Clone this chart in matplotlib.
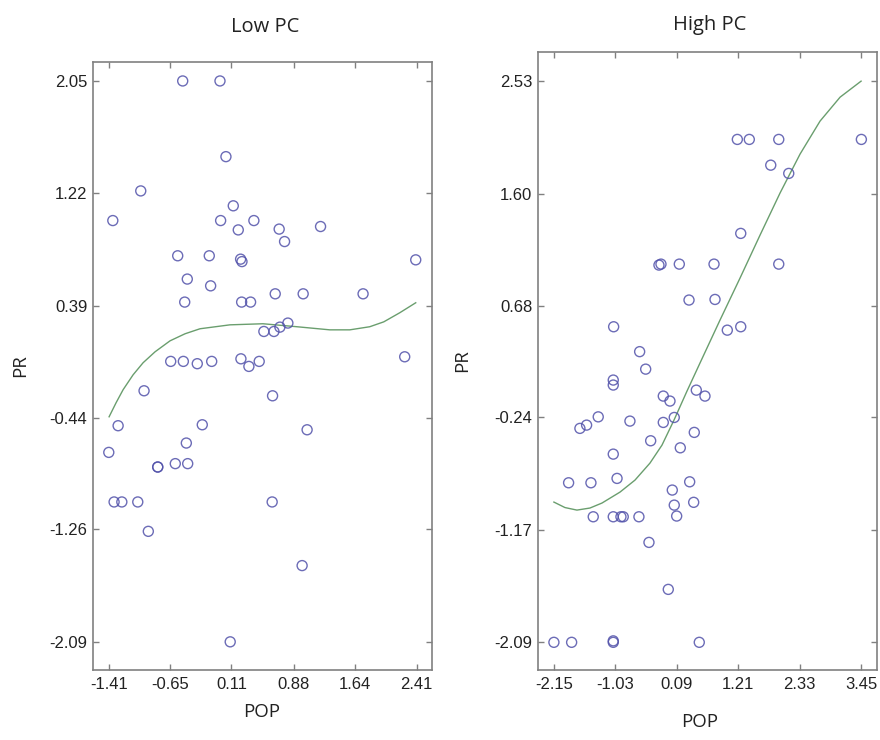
import matplotlib
matplotlib.use("Agg")
import matplotlib.pyplot as plt
import numpy as np

# ---- Low PC panel: scatter of PR against POP ----
low_pop = [-0.496, -0.033, 0.041, -1.017, -1.364, 0.132, -0.025, 0.194, 0.388,
           -0.558, -0.166, 0.223, 0.240, -0.439, -0.149, -0.471, 0.236, 0.347,
           0.512, 0.702, 0.769, 1.216, 2.398, 0.653, 1.000, 1.744, 0.810, 0.711,
           0.637, 2.261, -0.645, -0.488, -0.315, -0.136, 0.227, 0.326, 0.454,
           -0.976, 0.620, -1.298, -0.253, -0.451, -1.414, -0.588, -0.434, -0.806,
           -0.806, -1.348, -1.252, -1.054, 0.615, -0.923, 0.094, 1.049, 0.987]
low_pr = [2.05, 2.05, 1.491, 1.238, 1.019, 1.128, 1.019, 0.950, 1.019,
          0.759, 0.759, 0.734, 0.716, 0.587, 0.537, 0.417, 0.417, 0.417,
          0.200, 0.956, 0.864, 0.975, 0.729, 0.478, 0.478, 0.478, 0.262, 0.232,
          0.200, 0.013, -0.021, -0.021, -0.038, -0.021, -0.002, -0.058, -0.021,
          -0.238, -0.275, -0.496, -0.489, -0.624, -0.693, -0.776, -0.776, -0.801,
          -0.801, -1.059, -1.059, -1.059, -1.059, -1.276, -2.092, -0.526, -1.529]

# fitted curve
low_fit_pop = [-1.410, -1.323, -1.236, -1.112, -0.988, -0.839, -0.653, -0.467, -0.281,
               0.091, 0.500, 0.922, 1.331, 1.579, 1.827, 2.001, 2.199, 2.398]
low_fit_pr = [-0.430, -0.326, -0.230, -0.120, -0.031, 0.050, 0.131, 0.183, 0.220,
              0.249, 0.257, 0.235, 0.212, 0.212, 0.235, 0.271, 0.338, 0.412]

low_xticks = ["-1.41", "-0.65", "0.11", "0.88", "1.64", "2.41"]
low_yticks = ["-2.09", "-1.26", "-0.44", "0.39", "1.22", "2.05"]

# ---- High PC panel ----
high_pop = [-0.235, -0.198, 0.136, 0.769, 0.313, 0.787, -1.061, -0.587, 1.194,
            1.412, 1.949, 3.455, 1.803, 2.131, 1.256, 1.949, 1.011, 1.256,
            -0.477, -1.068, -1.068, -0.156, -0.034, 0.446, 0.604, -1.342, -1.554,
            -1.676, -0.764, -0.156, 0.044, 0.409, -0.386, 0.154, -1.068, -1.882,
            -1.475, -0.999, 0.008, 0.325, 0.044, 0.398, 0.088, -1.433, -1.068,
            -0.928, -0.886, -0.600, -0.417, -0.065, -2.150, -1.827, -1.068, -1.068,
            0.500]
high_pr = [1.015, 1.023, 1.023, 1.023, 0.727, 0.732, 0.507, 0.302, 2.050,
           2.050, 2.050, 2.050, 1.838, 1.770, 1.276, 1.023, 0.479, 0.507,
           0.158, 0.068, 0.027, -0.064, -0.105, -0.015, -0.064, -0.235, -0.303,
           -0.330, -0.270, -0.281, -0.240, -0.363, -0.432, -0.490, -0.542, -0.778,
           -0.778, -0.742, -0.838, -0.770, -0.962, -0.939, -1.052, -1.058, -1.058,
           -1.058, -1.058, -1.058, -1.269, -1.656, -2.092, -2.092, -2.092, -2.080,
           -2.092]

high_fit_pop = [-2.150, -1.949, -1.730, -1.493, -1.274, -0.946, -0.672, -0.399, -0.180,
                0.039, 0.276, 0.513, 0.878, 1.243, 1.608, 1.972, 2.337, 2.702,
                3.067, 3.450]
high_fit_pr = [-0.937, -0.982, -1.003, -0.986, -0.945, -0.855, -0.756, -0.616, -0.468,
               -0.262, -0.023, 0.208, 0.562, 0.908, 1.262, 1.608, 1.929, 2.201,
               2.398, 2.530]

high_xticks = ["-2.15", "-1.03", "0.09", "1.21", "2.33", "3.45"]
high_yticks = ["-2.09", "-1.17", "-0.24", "0.68", "1.60", "2.53"]

marker_col = "#5252aa"
line_col = "#6a9e6e"
spine_col = "#808080"
label_font = "Open Sans"
tick_font = "Liberation Sans"


def draw_panel(ax, pop, pr, fit_pop, fit_pr, xt, yt, xlim, ylim):
    ax.plot(fit_pop, fit_pr, color=line_col, lw=1.0, zorder=2)
    ax.scatter(pop, pr, s=52, facecolors="none", edgecolors=marker_col,
               linewidths=1.0, alpha=0.85, zorder=3)

    xv = [float(v) for v in xt]
    yv = [float(v) for v in yt]
    ax.set_xticks(xv)
    ax.set_xticklabels(xt)
    ax.set_yticks(yv)
    ax.set_yticklabels(yt)
    ax.set_xlim(*xlim)
    ax.set_ylim(*ylim)

    # matlab-ish box with inward ticks on every side
    ax.tick_params(direction="in", length=4.5, width=1.0, color=spine_col,
                   top=True, right=True, labelsize=12, labelcolor="#222222")
    ax.tick_params(axis="x", pad=5)
    ax.tick_params(axis="y", pad=4)
    for lab in ax.get_xticklabels() + ax.get_yticklabels():
        lab.set_fontfamily(tick_font)
    for sp in ax.spines.values():
        sp.set_color(spine_col)
        sp.set_linewidth(1.2)


fig = plt.figure(figsize=(8.8, 7.4), dpi=100)

ax1 = fig.add_axes([93 / 880, 70 / 740, 339 / 880, 608 / 740])
draw_panel(ax1, low_pop, low_pr, low_fit_pop, low_fit_pr, low_xticks, low_yticks,
           (-1.61, 2.60), (-2.30, 2.19))

ax2 = fig.add_axes([538 / 880, 70 / 740, 339 / 880, 618 / 740])
draw_panel(ax2, high_pop, high_pr, high_fit_pop, high_fit_pr, high_xticks, high_yticks,
           (-2.44, 3.74), (-2.32, 2.77))

# titles and axis labels placed by hand
fig.text(265 / 880, 1 - 32 / 740, "Low PC", ha="center", va="baseline",
         fontsize=14.5, family=label_font, color="#222222")
fig.text(710 / 880, 1 - 30 / 740, "High PC", ha="center", va="baseline",
         fontsize=14.5, family=label_font, color="#222222")
fig.text(20 / 880, 1 - 366 / 740, "PR", ha="center", va="center", rotation=90,
         fontsize=13.5, family=label_font, color="#222222")
fig.text(462 / 880, 1 - 361 / 740, "PR", ha="center", va="center", rotation=90,
         fontsize=13.5, family=label_font, color="#222222")
fig.text(262 / 880, 1 - 712 / 740, "POP", ha="center", va="center",
         fontsize=13.5, family=label_font, color="#222222")
fig.text(700 / 880, 1 - 722 / 740, "POP", ha="center", va="center",
         fontsize=13.5, family=label_font, color="#222222")

fig.savefig("out.png", dpi=100)
